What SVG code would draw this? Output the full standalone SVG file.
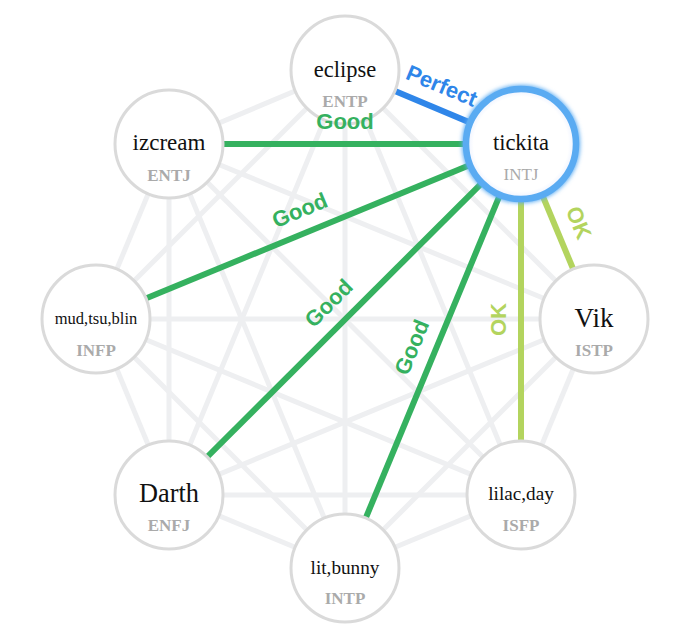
<svg xmlns="http://www.w3.org/2000/svg" width="697" height="638" viewBox="0 0 697 638">
<style>
.bg{stroke:#eeeff1;stroke-width:5;fill:none}
.e{stroke-width:6;fill:none}
.perfect{stroke:#2f86e9}
.good{stroke:#35b15f}
.ok{stroke:#b3d45e}
.lbl{font-family:"Liberation Sans",Arial,sans-serif;font-weight:bold;font-size:22px;text-anchor:middle}
.node circle{fill:#fff;stroke:#dadada;stroke-width:3}
.name{font-family:"Liberation Serif","Times New Roman",serif;fill:#111;text-anchor:middle}
.type{font-family:"Liberation Serif","Times New Roman",serif;font-weight:bold;font-size:17px;fill:#aaaaaa;text-anchor:middle}
</style>
<defs>
<filter id="glow" x="-30%" y="-30%" width="160%" height="160%">
<feGaussianBlur stdDeviation="2"/>
</filter>
<radialGradient id="inner" cx="50%" cy="50%" r="50%">
<stop offset="86%" stop-color="#ffffff"/>
<stop offset="100%" stop-color="#eaf0ff"/>
</radialGradient>
</defs>
<rect width="697" height="638" fill="#fff"/>
<g id="connectors">
<g id="background-edges">
<line class="bg" x1="345" y1="70" x2="594" y2="319"/>
<line class="bg" x1="345" y1="70" x2="521" y2="495"/>
<line class="bg" x1="345" y1="70" x2="345" y2="568"/>
<line class="bg" x1="345" y1="70" x2="169" y2="495"/>
<line class="bg" x1="345" y1="70" x2="96" y2="319"/>
<line class="bg" x1="345" y1="70" x2="169" y2="144"/>
<line class="bg" x1="594" y1="319" x2="521" y2="495"/>
<line class="bg" x1="594" y1="319" x2="345" y2="568"/>
<line class="bg" x1="594" y1="319" x2="169" y2="495"/>
<line class="bg" x1="594" y1="319" x2="96" y2="319"/>
<line class="bg" x1="594" y1="319" x2="169" y2="144"/>
<line class="bg" x1="521" y1="495" x2="345" y2="568"/>
<line class="bg" x1="521" y1="495" x2="169" y2="495"/>
<line class="bg" x1="521" y1="495" x2="96" y2="319"/>
<line class="bg" x1="521" y1="495" x2="169" y2="144"/>
<line class="bg" x1="345" y1="568" x2="169" y2="495"/>
<line class="bg" x1="345" y1="568" x2="96" y2="319"/>
<line class="bg" x1="345" y1="568" x2="169" y2="144"/>
<line class="bg" x1="169" y1="495" x2="96" y2="319"/>
<line class="bg" x1="169" y1="495" x2="169" y2="144"/>
<line class="bg" x1="96" y1="319" x2="169" y2="144"/>
</g>
<g id="match-edges">
<line class="e perfect" x1="345" y1="70" x2="521" y2="144"/>
<line class="e good" x1="169" y1="144" x2="521" y2="144"/>
<line class="e good" x1="96" y1="319" x2="521" y2="144"/>
<line class="e good" x1="169" y1="495" x2="521" y2="144"/>
<line class="e good" x1="345" y1="568" x2="521" y2="144"/>
<line class="e ok" x1="521" y1="495" x2="521" y2="144"/>
<line class="e ok" x1="594" y1="319" x2="521" y2="144"/>
</g>
</g>
<g id="node-eclipse" class="node">
<circle cx="345" cy="70" r="54"/>
<text class="name" x="345" y="77" font-size="22.5">eclipse</text>
<text class="type" x="345" y="107">ENTP</text>
</g>
<g id="node-tickita">
<circle cx="521" cy="144" r="55" fill="none" stroke="#5aabf2" stroke-width="8" filter="url(#glow)"/>
<circle cx="521" cy="144" r="55" fill="url(#inner)" stroke="#5aabf2" stroke-width="6.5"/>
<text class="name" x="521" y="150" font-size="22.5">tickita</text>
<text class="type" x="521" y="180" style="font-weight:normal">INTJ</text>
</g>
<g id="node-vik" class="node">
<circle cx="594" cy="319" r="54"/>
<text class="name" x="594" y="327" font-size="27">Vik</text>
<text class="type" x="594" y="356">ISTP</text>
</g>
<g id="node-lilac" class="node">
<circle cx="521" cy="495" r="54"/>
<text class="name" x="521" y="500" font-size="19.2">lilac,day</text>
<text class="type" x="521" y="531">ISFP</text>
</g>
<g id="node-lit" class="node">
<circle cx="345" cy="568" r="54"/>
<text class="name" x="345" y="574" font-size="19.2">lit,bunny</text>
<text class="type" x="345" y="604">INTP</text>
</g>
<g id="node-darth" class="node">
<circle cx="169" cy="495" r="54"/>
<text class="name" x="169" y="502" font-size="26.3">Darth</text>
<text class="type" x="169" y="531">ENFJ</text>
</g>
<g id="node-mud" class="node">
<circle cx="96" cy="319" r="54"/>
<text class="name" x="96" y="324" font-size="16.5">mud,tsu,blin</text>
<text class="type" x="96" y="356">INFP</text>
</g>
<g id="node-izcream" class="node">
<circle cx="169" cy="144" r="54"/>
<text class="name" x="169" y="150" font-size="23">izcream</text>
<text class="type" x="169" y="181">ENTJ</text>
</g>
<g id="edge-labels">
<text class="lbl" fill="#2f86e9" transform="translate(433,107) rotate(22.5)" y="-15.5">Perfect</text>
<text class="lbl" fill="#35b15f" transform="translate(345,144)" y="-15.5">Good</text>
<text class="lbl" fill="#35b15f" transform="translate(308.5,231.5) rotate(-22.5)" y="-15.5">Good</text>
<text class="lbl" fill="#35b15f" transform="translate(345,319.5) rotate(-45)" y="-15.5">Good</text>
<text class="lbl" fill="#35b15f" transform="translate(433,356) rotate(-67.5)" y="-15.5">Good</text>
<text class="lbl" fill="#b3d45e" transform="translate(521,319.5) rotate(-90)" y="-15.5">OK</text>
<text class="lbl" fill="#b3d45e" transform="translate(557.5,231.5) rotate(67.5)" y="-15.5">OK</text>
</g>
</svg>
